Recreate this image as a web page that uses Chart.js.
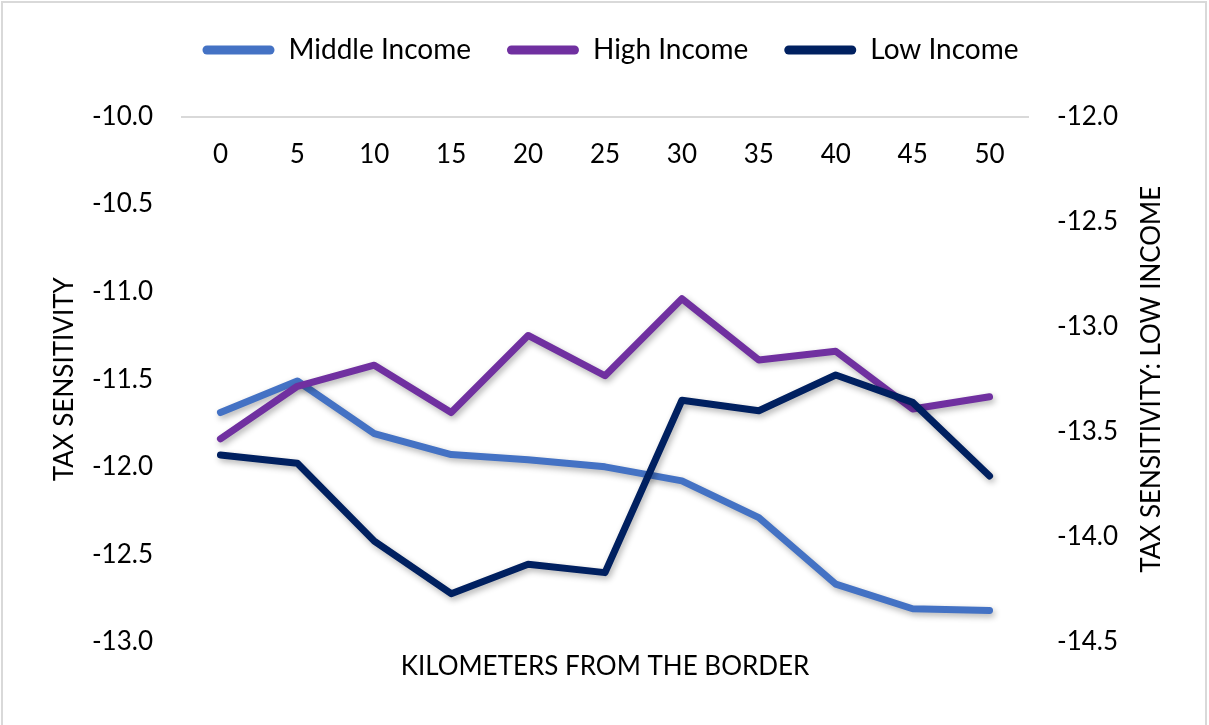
<!DOCTYPE html>
<html>
<head>
<meta charset="utf-8">
<script src="https://cdn.jsdelivr.net/npm/chart.js@4"></script>
<style>
  html, body { margin: 0; padding: 0; background: #fff; }
  #wrap { width: 1209px; height: 725px; }
</style>
</head>
<body>
<div id="wrap"><canvas id="grafico" width="1209" height="725"></canvas></div>
<script>
// dados
const distancias = ['0', '5', '10', '15', '20', '25', '30', '35', '40', '45', '50'];
const rendaMedia = [-11.69, -11.51, -11.81, -11.93, -11.96, -12.00, -12.08, -12.29, -12.67, -12.81, -12.82];
const rendaAlta = [-11.84, -11.54, -11.42, -11.69, -11.25, -11.48, -11.04, -11.39, -11.34, -11.67, -11.60];
const rendaBaixa = [-13.61, -13.65, -14.02, -14.27, -14.13, -14.17, -13.35, -13.40, -13.23, -13.36, -13.71];

const fonte = 'Lato, "Open Sans", sans-serif';
const tamanho = 26;

// sombra leve nas linhas
const sombra = {
    id: 'sombra',
    beforeDatasetsDraw(chart) {
        const ctx = chart.ctx;
        ctx.save();
        ctx.shadowColor = 'rgba(0,0,0,0.3)';
        ctx.shadowBlur = 6;
        ctx.shadowOffsetX = 2;
        ctx.shadowOffsetY = 3;
    },
    afterDatasetsDraw(chart) {
        chart.ctx.restore();
    }
};

// títulos do eixo direito e de baixo, moldura
const extras = {
    id: 'extras',
    afterDraw(chart) {
        const ctx = chart.ctx;
        const area = chart.chartArea;
        ctx.save();
        ctx.strokeStyle = '#d9d9d9';
        ctx.lineWidth = 2;
        ctx.strokeRect(2, 2, 1204, 740);
        ctx.fillStyle = '#000';
        ctx.font = tamanho + 'px ' + fonte;
        ctx.textAlign = 'center';
        ctx.textBaseline = 'middle';
        ctx.fillText('KILOMETERS FROM THE BORDER', (area.left + area.right) / 2, 667);
        ctx.translate(1152, (area.top + area.bottom) / 2);
        ctx.rotate(-Math.PI / 2);
        ctx.fillText('TAX SENSITIVITY: LOW INCOME', 0, 0);
        ctx.restore();
    }
};

const ctx = document.getElementById('grafico').getContext('2d');
new Chart(ctx, {
    type: 'line',
    data: {
        labels: distancias,
        datasets: [
            { label: 'Middle Income', data: rendaMedia, yAxisID: 'y', order: 3,
              borderColor: '#4472C4', backgroundColor: '#4472C4' },
            { label: 'High Income', data: rendaAlta, yAxisID: 'y', order: 2,
              borderColor: '#7030A0', backgroundColor: '#7030A0' },
            { label: 'Low Income', data: rendaBaixa, yAxisID: 'y2', order: 1,
              borderColor: '#002060', backgroundColor: '#002060' }
        ]
    },
    options: {
        responsive: false,
        animation: false,
        elements: {
            line: { borderWidth: 7, tension: 0, borderCapStyle: 'round', borderJoinStyle: 'round' },
            point: { radius: 0, hoverRadius: 0 }
        },
        layout: { padding: { left: 12, right: 0, top: 0, bottom: 83 } },
        plugins: {
            tooltip: { enabled: false },
            legend: {
                position: 'top',
                labels: {
                    color: '#000',
                    font: { family: fonte, size: 28 },
                    boxWidth: 72,
                    boxHeight: 9,
                    padding: 36,
                    sort: (a, b) => a.datasetIndex - b.datasetIndex,
                    generateLabels(chart) {
                        const itens = Chart.defaults.plugins.legend.labels.generateLabels(chart);
                        itens.forEach(i => { i.lineWidth = 0; i.borderRadius = 4.5; });
                        return itens;
                    }
                }
            }
        },
        scales: {
            x: {
                type: 'category',
                position: { y: -10 },
                offset: true,
                grid: { display: false, drawTicks: false },
                border: { color: '#d9d9d9', width: 2 },
                ticks: { color: '#000', padding: 23, font: { family: fonte, size: tamanho }, maxRotation: 0 }
            },
            espaco: {
                type: 'category',
                position: 'top',
                grid: { display: false, drawTicks: false },
                border: { display: false },
                ticks: { display: false },
                afterFit(s) {
                    const alturaLegenda = s.chart.legend ? s.chart.legend.height : 74;
                    s.height = Math.max(116.5 - alturaLegenda, 0);
                }
            },
            y: {
                position: 'left',
                min: -13,
                max: -10,
                grid: { display: false, drawTicks: false },
                border: { display: false },
                ticks: {
                    stepSize: 0.5,
                    padding: 29,
                    color: '#000',
                    font: { family: fonte, size: tamanho },
                    callback: v => Number(v).toFixed(1)
                },
                title: {
                    display: true,
                    text: 'TAX SENSITIVITY',
                    color: '#000',
                    font: { family: fonte, size: tamanho },
                    padding: { top: 37, bottom: 0 }
                },
                afterFit(s) { s.width = 170; }
            },
            y2: {
                position: 'right',
                min: -14.5,
                max: -12,
                grid: { display: false, drawTicks: false },
                border: { display: false },
                ticks: {
                    stepSize: 0.5,
                    padding: 29,
                    color: '#000',
                    font: { family: fonte, size: tamanho },
                    callback: v => Number(v).toFixed(1)
                },
                afterFit(s) { s.width = 181; }
            }
        }
    },
    plugins: [sombra, extras]
});
</script>
</body>
</html>
